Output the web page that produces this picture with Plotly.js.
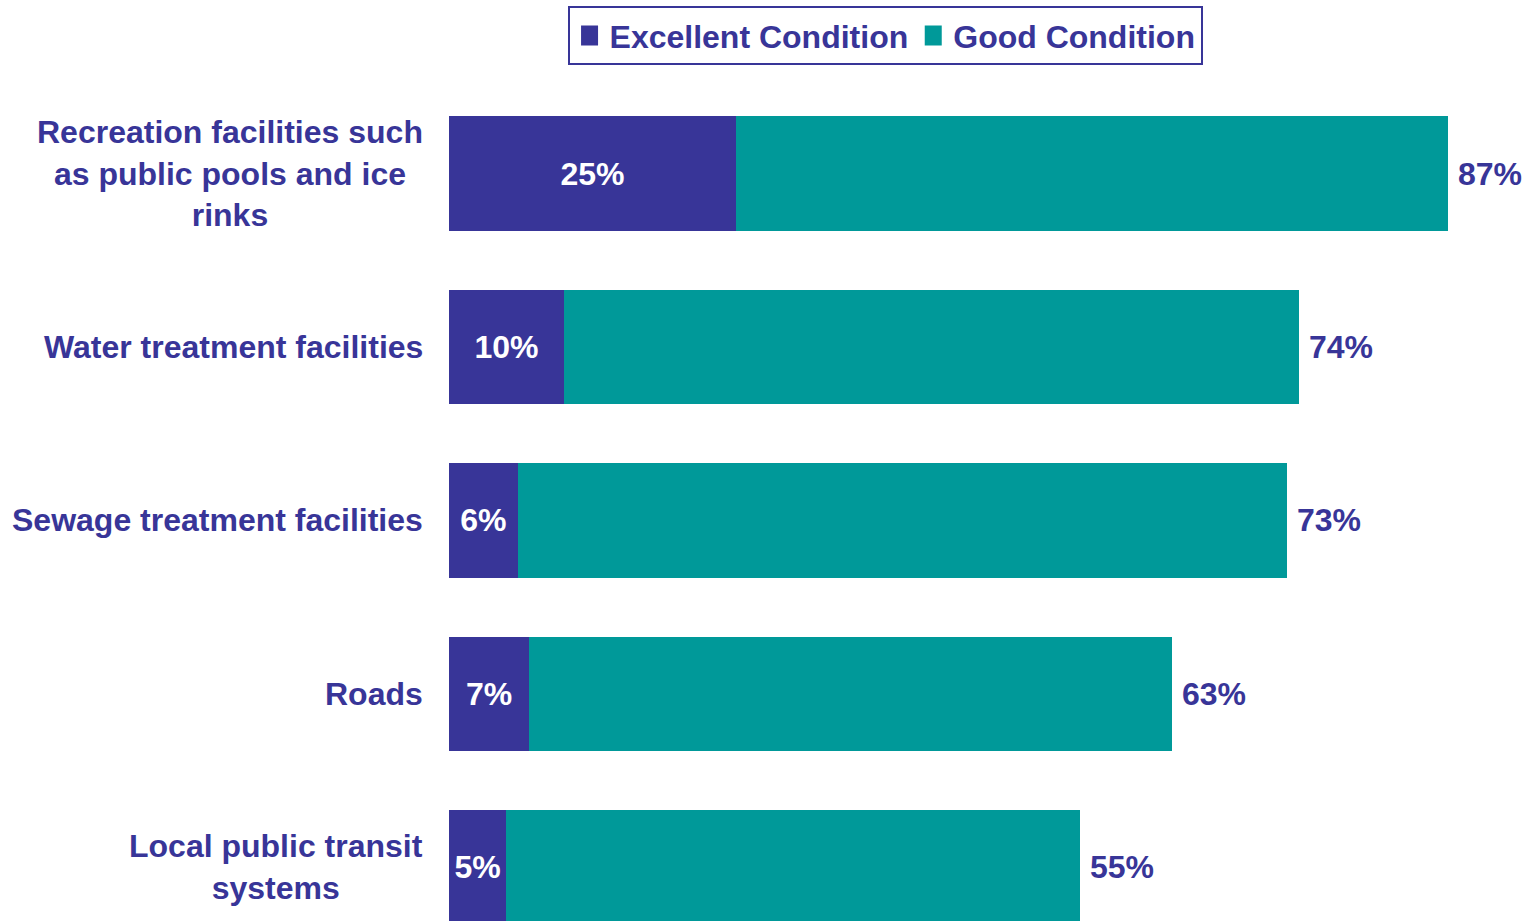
<!DOCTYPE html>
<html>
<head>
<meta charset="utf-8">
<script src="https://cdn.plot.ly/plotly-3.0.1.min.js"></script>
<style>html,body{margin:0;padding:0;background:#fff;}#chart{width:1529px;height:921px;}</style>
</head>
<body>
<div id="chart"></div>
<script>
const categories = [
  "Recreation facilities such<br>as public pools and ice<br>rinks",
  "Water treatment facilities",
  "Sewage treatment facilities",
  "Roads",
  "Local public transit<br>systems"
];
const excellent = [25, 10, 6, 7, 5];
const totals = [87, 74, 73, 63, 55];
const good = totals.map((t, i) => t - excellent[i]);

const INDIGO = "#383598";
const TEAL = "#009999";
const FONT = "Liberation Sans, Arial, Helvetica, sans-serif";
const FS = 32;

const traces = [
  {
    type: "bar", orientation: "h", name: "Excellent Condition",
    y: categories, x: excellent,
    marker: {color: INDIGO},
    text: excellent.map(v => v + "%"),
    textposition: "inside", insidetextanchor: "middle", constraintext: "none",
    textfont: {family: FONT, size: FS, color: "#ffffff", weight: "bold"},
    hoverinfo: "skip"
  },
  {
    type: "bar", orientation: "h", name: "Good Condition",
    y: categories, x: good,
    marker: {color: TEAL},
    textposition: "none",
    hoverinfo: "skip"
  }
];

const annotations = [];
categories.forEach((c, i) => {
  annotations.push({
    xref: "x", yref: "y", x: totals[i], y: c,
    text: totals[i] + "%", showarrow: false,
    xanchor: "left", yanchor: "middle", xshift: 8,
    font: {family: FONT, size: FS, color: INDIGO, weight: "bold"}
  });
  annotations.push({
    xref: "paper", yref: "y", x: 0, y: c,
    text: c, showarrow: false, align: "center",
    xanchor: "right", yanchor: "middle", xshift: -24,
    font: {family: FONT, size: FS, color: INDIGO, weight: "bold"}
  });
});

const layout = {
  width: 1529, height: 921,
  margin: {l: 449, r: 2, t: 87, b: 0},
  paper_bgcolor: "#ffffff", plot_bgcolor: "#ffffff",
  barmode: "stack", bargap: 0.34,
  hovermode: false,
  xaxis: {range: [0, 93.9], visible: false, fixedrange: true},
  yaxis: {type: "category", categoryarray: categories, categoryorder: "array",
          range: [4.31, -0.5], showticklabels: false, showgrid: false,
          zeroline: false, showline: false, ticks: "", fixedrange: true},
  showlegend: true,
  legend: {
    orientation: "h", x: 0.4045, xanchor: "center", y: 1.097, yanchor: "top",
    bordercolor: INDIGO, borderwidth: 2, bgcolor: "#ffffff",
    traceorder: "normal", itemwidth: 30,
    font: {family: FONT, size: FS, color: INDIGO, weight: "bold"}
  },
  annotations: annotations
};

Plotly.newPlot("chart", traces, layout, {displayModeBar: false, staticPlot: true}).then(gd => {
  gd.querySelectorAll(".legend .legendpoints path").forEach(p => {
    p.setAttribute("d", "M8.5,10H-8.5V-10H8.5Z");
  });
});
</script>
</body>
</html>
